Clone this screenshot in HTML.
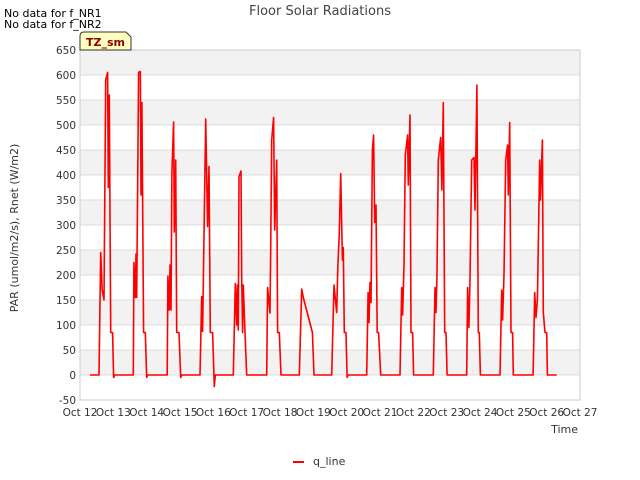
<!DOCTYPE html>
<html><head><meta charset="utf-8"><style>
body{margin:0;background:#fff;font-family:"Liberation Sans",sans-serif;}
svg{display:block}
text{font-family:"DejaVu Sans","Liberation Sans",sans-serif;}
</style></head><body>
<svg id="chart" width="640" height="480">
<text x="4" y="17" font-size="11" fill="#000">No data for f_NR1</text>
<text x="4" y="28" font-size="11" fill="#000">No data for f_NR2</text>
<text x="320" y="15" font-size="13" fill="#444" text-anchor="middle">Floor Solar Radiations</text>
<g id="grid"></g>
<g id="yticks"></g>
<g id="xticks"></g>
<g id="series"></g>
<g>
<path d="M80,50 L80,36 Q80,32 84,32 L126,32 L131,37 L131,50 Z" fill="#ffffc0" stroke="#333" stroke-width="1"/>
<text x="105.5" y="46" font-size="11" font-weight="bold" fill="#8b0000" text-anchor="middle">TZ_sm</text>
</g>
<text transform="translate(18,228) rotate(-90)" font-size="11" fill="#333" text-anchor="middle">PAR (umol/m2/s), Rnet (W/m2)</text>
<text x="578" y="433" font-size="11" fill="#333" text-anchor="end">Time</text>
<g>
<line x1="293" y1="462" x2="304" y2="462" stroke="#f00" stroke-width="2"/>
<text x="313" y="465" font-size="11" fill="#333">q_line</text>
</g>
</svg>
<script>
const yTicks=[-50,0,50,100,150,200,250,300,350,400,450,500,550,600,650];
const xLabels=["Oct 12","Oct 13","Oct 14","Oct 15","Oct 16","Oct 17","Oct 18","Oct 19","Oct 20","Oct 21","Oct 22","Oct 23","Oct 24","Oct 25","Oct 26","Oct 27"];
const dayHours=[
[7.2,13.7,14.9,16,17.3,18.5,19.9,20.4,21.1,22.1,23.5,24.2,25.0],
[14.4,14.8,15.8,16.3,16.8,18.2,19.4,19.9,20.6,21.8,23,24,24.7],
[14.8,15.3,16.3,16.8,17.5,18.2,19.4,19.9,20.9,21.6,23.3,24.5,25.2],
[14.4,15.6,16.3,18.5,19.9,20.9,21.8,23.5,24.7,25.4],
[14.4,15.8,16.8,17.3,18,18.5,19.9,20.4,21.1,21.6,22.8,24],
[14.4,15.1,16.8,17.3,18,19.4,20.2,21.6,22.3,23.5,24.7],
[13.9,15.6,16.8,23.3,24.5],
[13.2,14.9,16.8,17.6,18.7,19.7,20.9,21.6,22.3,23.5,24.3,25.0],
[14.4,15.4,16.1,16.8,17.5,18.5,19.4,20.2,21.1,22,23,24.5],
[14.4,15.6,16.3,17.3,18.2,19.9,20.4,21.6,22.3,23.5,24.2],
[14.4,15.6,16.3,17,18,19.7,20.6,21.6,22.6,23.5,24.3],
[14.4,15.1,16,16.8,18,19.7,20.4,21.8,22.8,23.5,24.3],
[14.4,15.6,16.3,17.3,18.5,19.9,20.4,21.4,22.3,23.5,24],
[14.2,15.4,16.3,17.3,19,19.5,20.9,21.6,22.8,24,24.5,31.2]
];
const dayVals=[
[0,0,245,170,150,590,605,375,560,85,85,-5,0],
[0,225,155,242,155,605,607,360,545,85,85,-5,0],
[0,198,130,220,130,404,506,286,430,85,85,-5,0],
[0,157,87,512,297,417,85,85,-23,0],
[0,183,100,180,90,397,408,194,85,180,85,0],
[0,175,124,255,470,515,290,430,85,85,0],
[0,172,155,85,0],
[0,180,125,215,283,403,230,255,85,85,-5,0],
[0,165,105,185,145,450,480,305,340,85,85,0],
[0,175,120,220,440,480,380,520,85,85,0],
[0,175,125,190,430,475,370,545,85,85,0],
[0,175,95,190,430,435,330,580,85,85,0],
[0,170,110,200,430,460,360,505,85,85,0],
[0,165,115,150,430,350,470,125,85,85,0,0]
];
const NS="http://www.w3.org/2000/svg";
const X0=80,X1=580,Y0=400,Y1=50,YMIN=-50,YMAX=650,DAYS=15;
const xs=t=>X0+(t/DAYS)*(X1-X0);
const ys=v=>Y0-(v-YMIN)/(YMAX-YMIN)*(Y0-Y1);
const grid=document.getElementById('grid');
for(let i=0;i<yTicks.length-1;i++){
  if(yTicks[i]>=0 && (yTicks[i]/50)%2===0){
    const r=document.createElementNS(NS,'rect');
    
    
    r.setAttribute('x',X0);r.setAttribute('width',X1-X0);
    r.setAttribute('y',ys(yTicks[i+1]));r.setAttribute('height',ys(yTicks[i])-ys(yTicks[i+1]));
    r.setAttribute('fill','#f2f2f2');grid.appendChild(r);
  }
}
const yg=document.getElementById('yticks');
yTicks.forEach(v=>{
  const l=document.createElementNS(NS,'line');
  
  
  l.setAttribute('x1',X0);l.setAttribute('x2',X1);l.setAttribute('y1',ys(v));l.setAttribute('y2',ys(v));
  l.setAttribute('stroke','#dcdcdc');grid.appendChild(l);
  const t=document.createElementNS(NS,'text');
  
  
  t.setAttribute('x',X0-4);t.setAttribute('y',ys(v)+4);t.setAttribute('font-size','10.5');
  t.setAttribute('text-anchor','end');t.setAttribute('fill','#333');t.textContent=v;yg.appendChild(t);
});
const border=document.createElementNS(NS,'rect');


border.setAttribute('x',X0);border.setAttribute('y',Y1);border.setAttribute('width',X1-X0);border.setAttribute('height',Y0-Y1);
border.setAttribute('fill','none');border.setAttribute('stroke','#ccc');grid.appendChild(border);
const xg=document.getElementById('xticks');
xLabels.forEach((s,i)=>{
  const t=document.createElementNS(NS,'text');
  
  
  t.setAttribute('x',xs(i));t.setAttribute('y',Y0+16);t.setAttribute('font-size','10.5');
  t.setAttribute('text-anchor','middle');t.setAttribute('fill','#333');t.textContent=s;xg.appendChild(t);
});
let pts=[];
dayHours.forEach((hs,d)=>hs.forEach((h,j)=>{pts.push(xs(d+h/24).toFixed(1)+','+ys(dayVals[d][j]).toFixed(1));}));
const pl=document.createElementNS(NS,'polyline');


pl.setAttribute('points',pts.join(' '));pl.setAttribute('fill','none');
pl.setAttribute('stroke','#f00');pl.setAttribute('stroke-width','1.6');pl.setAttribute('stroke-linejoin','round');
document.getElementById('series').appendChild(pl);
</script>
</body></html>
